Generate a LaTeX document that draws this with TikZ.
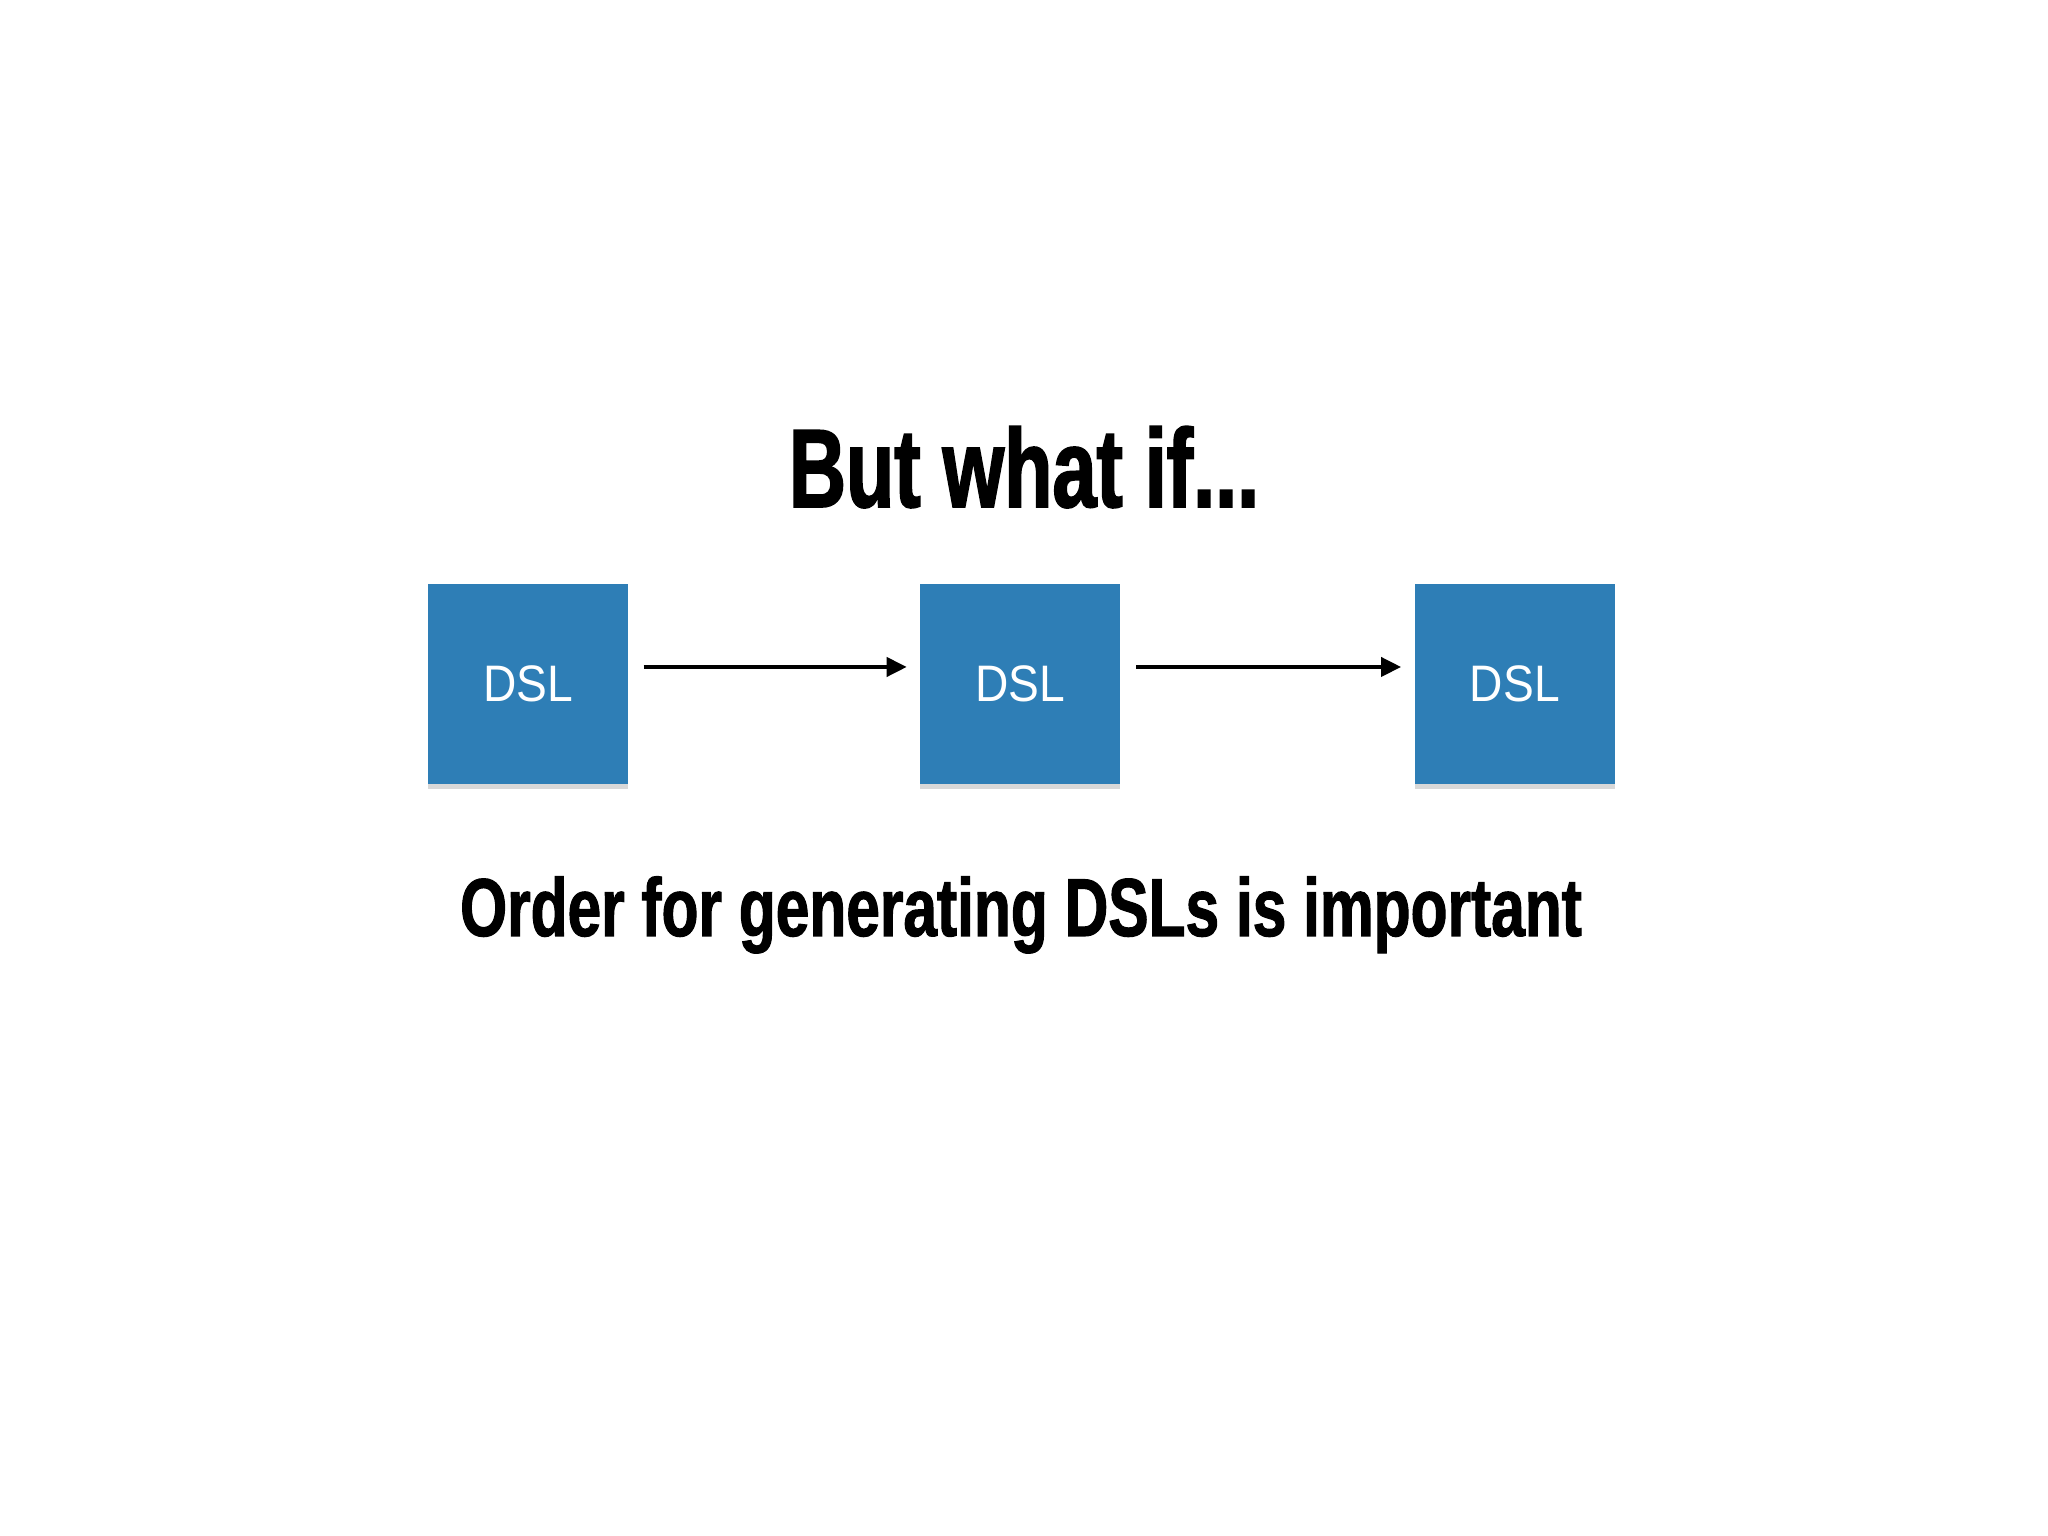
\documentclass[tikz,border=0pt]{standalone}
\usepackage{fontspec}
\usepackage{tikz}
\usetikzlibrary{arrows.meta,positioning,shadows}
\setmainfont{Liberation Sans}
\newfontfamily\titlefont[FakeStretch=0.71,FakeBold=1.6]{Liberation Sans}
\newfontfamily\notefont[FakeStretch=0.735,FakeBold=1.3]{Liberation Sans}
\newfontfamily\boxfont[FakeStretch=0.9]{Liberation Sans}
\definecolor{dslblue}{RGB}{46,126,182}

\begin{document}
\begin{tikzpicture}[>=Triangle,every node/.style={inner sep=0pt}]

  % ── page frame ────────────────────────────────────────
  \useasboundingbox[fill=white] (0,0) rectangle (20.48,15.36);

  \def\bs{2.0}

  % heading
  \node[anchor=base,font=\titlefont\bfseries\fontsize{31.7}{36}\selectfont] (head) at (10.24,10.29)
    {But what if...};

  % ── DSL chain ─────────────────────────────────────────
  \node[fill=dslblue,minimum width=\bs cm,minimum height=\bs cm,text=white,
        drop shadow={shadow xshift=0pt,shadow yshift=-1.5pt,opacity=0.3},
        font=\boxfont\fontsize{14.6}{17}\selectfont] (dsl1) at (5.28,8.52) {DSL};
  \node[fill=dslblue,minimum width=\bs cm,minimum height=\bs cm,text=white,
        drop shadow={shadow xshift=0pt,shadow yshift=-1.5pt,opacity=0.3},
        font=\boxfont\fontsize{14.6}{17}\selectfont,right=2.91cm of dsl1] (dsl2) {DSL};
  \node[fill=dslblue,minimum width=\bs cm,minimum height=\bs cm,text=white,
        drop shadow={shadow xshift=0pt,shadow yshift=-1.5pt,opacity=0.3},
        font=\boxfont\fontsize{14.6}{17}\selectfont,right=2.93cm of dsl2] (dsl3) {DSL};

  % arrows between the boxes
  \draw[-{Triangle[length=0.2cm,width=0.19cm]},line width=1.1pt]
    ([xshift=0.15cm,yshift=0.17cm]dsl1.east)--([xshift=-0.13cm,yshift=0.17cm]dsl2.west);
  \draw[-{Triangle[length=0.2cm,width=0.19cm]},line width=1.1pt]
    ([xshift=0.15cm,yshift=0.17cm]dsl2.east)--([xshift=-0.13cm,yshift=0.17cm]dsl3.west);

  % note below
  \node[anchor=base,font=\notefont\bfseries\fontsize{23.4}{27}\selectfont] (note) at (10.21,6.00)
    {Order for generating DSLs is important};

\end{tikzpicture}
\end{document}
